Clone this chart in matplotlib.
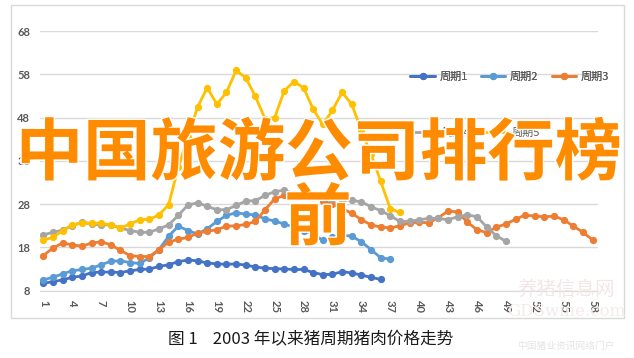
import matplotlib
matplotlib.use("Agg")
import matplotlib.pyplot as plt
import matplotlib.patheffects as pe
from matplotlib.patches import Rectangle

plt.rcParams['font.family'] = ['Noto Sans CJK SC', 'DejaVu Sans']

# price per cycle (yuan/kg)
cycle1 = [9.7, 10.1, 10.5, 11.1, 11.4, 12.2, 12.3, 12.3, 12.2, 12.6, 12.9, 13.0, 13.6, 14.0, 14.7,
          15.1, 14.9, 14.4, 14.2, 14.1, 14.2, 13.9, 13.5, 13.2, 13.1, 13.0, 12.9, 12.9, 12.2, 11.7,
          11.8, 12.4, 12.1, 11.6, 11.1, 10.6]
cycle2 = [10.5, 11.1, 11.9, 12.6, 12.9, 13.2, 14.0, 14.8, 14.9, 14.5, 14.3, 15.6, 17.5, 20.6, 22.9,
          21.9, 21.1, 22.3, 24.0, 25.4, 26.0, 25.7, 25.5, 24.6, 24.1, 23.4, 22.7, 21.9, 21.1, 19.6,
          20.3, 20.8, 20.6, 19.3, 17.5, 15.6, 15.3]
cycle3 = [16.1, 17.9, 19.0, 18.6, 18.3, 19.0, 19.3, 18.6, 17.3, 16.1, 15.9, 15.9, 17.5, 19.2, 19.9,
          20.3, 21.3, 21.7, 22.1, 22.9, 23.0, 23.3, 24.0, 26.7, 29.2, 30.0, 30.2, 30.0, 29.6, 28.8,
          28.0, 27.0, 25.9, 24.4, 23.2, 22.7, 22.5, 23.0, 23.7, 23.8, 23.7, 24.9, 26.4, 26.2, 23.8,
          22.1, 21.4, 22.7, 23.4, 24.5, 25.5, 25.2, 25.1, 25.2, 24.4, 22.9, 21.5, 19.7]
cycle4 = [20.9, 21.5, 22.0, 23.0, 23.8, 23.4, 23.2, 23.2, 22.5, 21.9, 21.5, 21.5, 22.3, 23.2, 25.4,
          27.8, 28.3, 27.5, 26.7, 26.7, 27.7, 28.7, 28.8, 30.0, 30.9, 31.2, 30.4, 30.2, 29.6, 29.4,
          29.2, 29.0, 28.9, 28.5, 27.4, 26.5, 25.3, 24.0, 24.0, 24.4, 24.7, 24.7, 24.4, 25.1, 25.5,
          25.1, 22.7, 20.7, 19.4]
cycle5 = [19.7, 20.3, 21.9, 23.2, 23.7, 23.6, 23.6, 23.2, 22.5, 23.4, 24.4, 24.5, 25.5, 27.9, 36.5,
          43.5, 50.4, 54.9, 51.1, 53.8, 58.9, 57.2, 52.9, 47.7, 48.0, 54.2, 56.3, 54.9, 49.9, 46.4,
          49.7, 53.8, 51.1, 45.0, 39.5, 33.3, 26.9, 26.1]

series_names = ["周期1", "周期2", "周期3", "周期4", "周期5"]
series_colors = ["#4472C4", "#5B9BD5", "#ED7D31", "#A5A5A5", "#FFC000"]
y_ticks = [8, 18, 28, 38, 48, 58, 68]
x_ticks = list(range(1, 59, 3))

W, H = 634, 358
fig = plt.figure(figsize=(W / 100, H / 100), dpi=100)
fig.patch.set_facecolor("white")

# chart frame
fig.patches.append(Rectangle((11 / W, 1 - 318 / H), 613 / W, 313 / H, transform=fig.transFigure,
                             fill=False, edgecolor="#D9D9D9", lw=1.0, zorder=0))

ax = fig.add_axes([40 / W, 1 - 290.7 / H, 557.5 / W, 259.7 / H])
handles = []
for vals, name, col in zip([cycle1, cycle2, cycle3, cycle4, cycle5], series_names, series_colors):
    xs = list(range(1, len(vals) + 1))
    ln, = ax.plot(xs, vals, color=col, lw=2.0, marker="o", ms=4.2, label=name,
                  solid_capstyle="round", zorder=3)
    handles.append(ln)

ax.set_xlim(0.65, 58.5)
ax.set_ylim(8, 68)
ax.set_yticks(y_ticks)
ax.set_xticks(x_ticks)
ax.set_xticklabels([str(v) for v in x_ticks], rotation=-90)
ax.grid(axis="y", color="#D9D9D9", lw=1.0)
ax.set_axisbelow(True)
for s in ["top", "right", "left"]:
    ax.spines[s].set_visible(False)
ax.spines["bottom"].set_color("#D9D9D9")
ax.tick_params(length=0, labelcolor="#595959", labelsize=8)
ax.tick_params(axis="y", pad=7)
ax.tick_params(axis="x", pad=7)
for lab in ax.get_xticklabels() + ax.get_yticklabels():
    lab.set_family(["Lato", "DejaVu Sans"])
    lab.set_fontweight("bold")

leg_kw = dict(frameon=False, fontsize=8, labelcolor="#595959", handlelength=2.2,
              handletextpad=0.4, columnspacing=1.2, borderaxespad=0)
leg1 = fig.legend(handles=handles[:3], ncol=3, loc="center left",
                  bbox_to_anchor=(406 / W, 1 - 77 / H), **leg_kw)
fig.legend(handles=handles[3:], ncol=2, loc="center left",
           bbox_to_anchor=(408 / W, 1 - 133 / H), **leg_kw)
fig.add_artist(leg1)

# big overlay title
stroke = [pe.withStroke(linewidth=2, foreground="white")]
fig.text(319 / W, 1 - 155 / H, "中国旅游公司排行榜", fontsize=48.5, color="#FF8C00",
         fontweight="bold", ha="center", va="center", path_effects=stroke, zorder=10)
fig.text(318 / W, 1 - 220 / H, "前", fontsize=48.5, color="#FF8C00",
         fontweight="bold", ha="center", va="center", path_effects=stroke, zorder=10)

# caption
fig.text(311 / W, 1 - 340 / H, "图 1    2003 年以来猪周期猪肉价格走势", fontsize=12,
         color="#1A1A1A", ha="center", va="center")

# faint watermark
fig.text(566 / W, 1 - 289 / H, "养猪信息网", fontsize=14, color="#F3E6E6",
         ha="center", va="center", zorder=1)
fig.text(566 / W, 1 - 312 / H, "GDSwine.com", fontsize=12, color="#F5EAEA",
         family="DejaVu Serif", ha="center", va="center", zorder=1)
fig.text(566 / W, 1 - 346 / H, "中国猪业资讯网络门户", fontsize=7, color="#E4E4E4",
         ha="center", va="center", zorder=1)

fig.savefig("out.png", dpi=100)
